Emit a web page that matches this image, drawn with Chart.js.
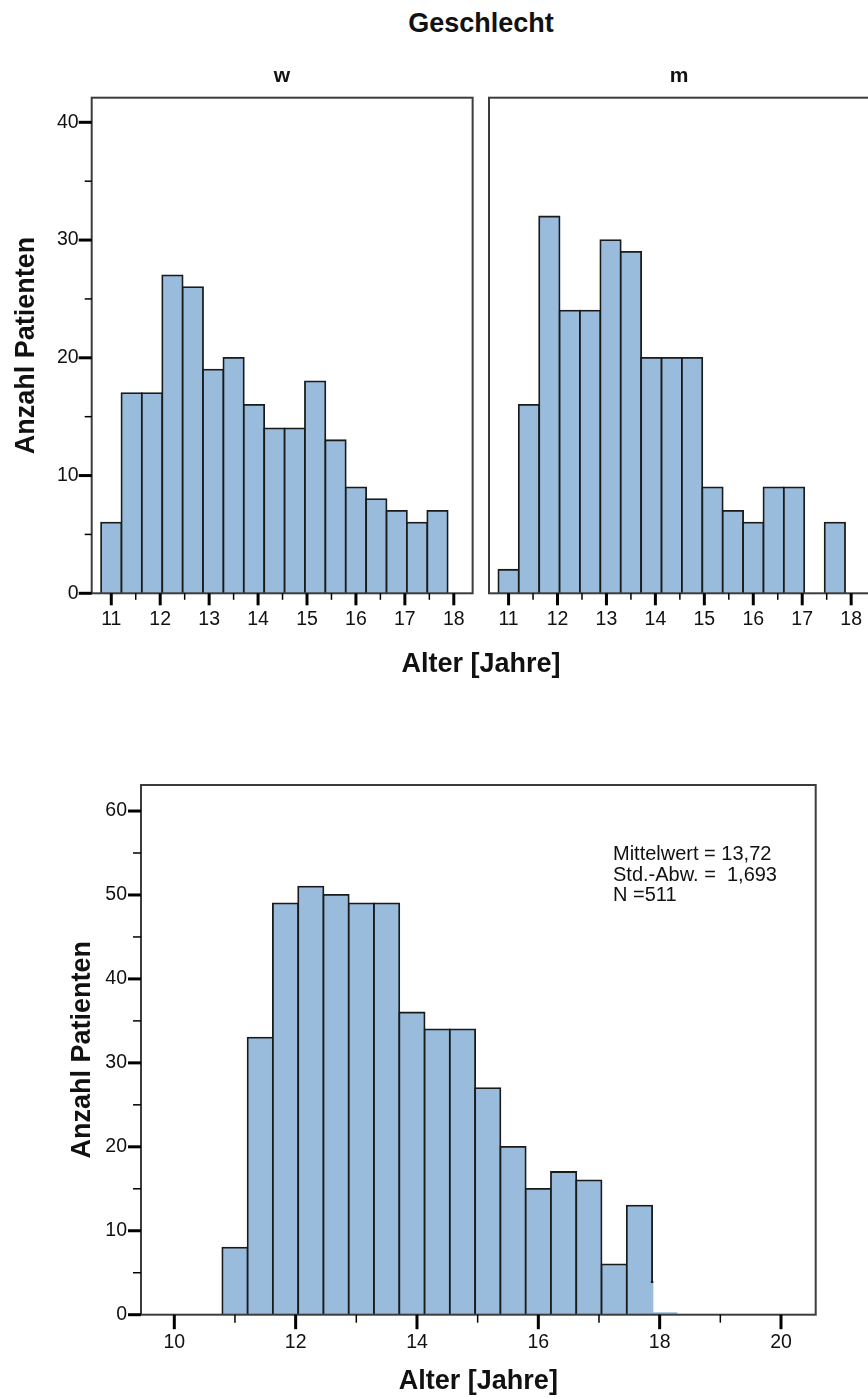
<!DOCTYPE html>
<html lang="de">
<head>
<meta charset="utf-8">
<title>Alter [Jahre] nach Geschlecht</title>
<script src="https://cdn.jsdelivr.net/npm/chart.js@4.4.1/dist/chart.umd.min.js"></script>
<style>
  html, body { margin: 0; padding: 0; background: #fff; }
  body {
    position: relative;
    width: 868px;
    height: 1398px;
    overflow: hidden;
    font-family: "Liberation Sans", Arial, sans-serif;
    color: #111;
  }
  canvas { position: absolute; }
  #chartW { left: 0; top: 0; }
  #chartM { left: 480px; top: 0; }
  #chartAll { left: 0; top: 700px; }
  .heading {
    position: absolute;
    width: 300px;
    text-align: center;
    font-weight: bold;
    font-size: 27px;
    line-height: 32px;
  }
  .panel {
    position: absolute;
    width: 100px;
    top: 62px;
    text-align: center;
    font-weight: bold;
    font-size: 21px;
    line-height: 26px;
  }
  #stats {
    position: absolute;
    left: 613px;
    top: 843px;
    font-size: 20px;
    line-height: 20.5px;
    white-space: pre;
  }
</style>
</head>
<body>
<div class="heading" style="left:331px; top:7px">Geschlecht</div>
<canvas id="chartW" width="480" height="700"></canvas>
<canvas id="chartM" width="400" height="700"></canvas>
<div class="panel" style="left:232px">w</div>
<div class="panel" style="left:629px">m</div>
<div class="heading" style="left:331px; top:647px">Alter [Jahre]</div>
<canvas id="chartAll" width="868" height="698"></canvas>
<div id="stats">Mittelwert = 13,72
Std.-Abw. =  1,693
N =511</div>

<script>
// age classes, centre of each 5-month class in months
const ageMonths = [132, 137, 142, 147, 152, 157, 162, 167, 172, 177, 182, 187, 192, 197, 202, 207, 212];
const countsW = [6, 17, 17, 27, 26, 19, 20, 16, 14, 14, 18, 13, 9, 8, 7, 6, 7];
const countsM = [2, 16, 32, 24, 24, 30, 29, 20, 20, 20, 9, 7, 6, 9, 9, 0, 6];
const countsAll = [8, 33, 49, 51, 50, 49, 49, 36, 34, 34, 27, 20, 15, 17, 16, 6, 13];

// last class (18+) only shows up as a thin strip plus a sliver at its left edge
const tailMonths = [217];
const tailCounts = [0.3];
const sliverAge = [17.9];
const sliverCounts = [4];

// tick labels
const xTicksTop = [11, 12, 13, 14, 15, 16, 17, 18];
const yTicksTop = [0, 10, 20, 30, 40];
const xTicksAll = [10, 12, 14, 16, 18, 20];
const yTicksAll = [0, 10, 20, 30, 40, 50, 60];

const fontFamily = "'Liberation Sans', Arial, sans-serif";
const textColor = "#111";
const barFill = "#99bbdc";
const barLine = "#1a1a1a";
const tickFont = { family: fontFamily, size: 19.5 };
const titleFont = { family: fontFamily, size: 27, weight: "bold" };

function toPoints(months, counts) {
  return months.map((m, i) => ({ x: m / 12, y: counts[i] }));
}

function setTicks(values) {
  return (axis) => {
    axis.ticks = values.map((v) => ({ value: v }));
  };
}

// frame around the plot area + long major / short minor tick marks
const tickMarks = {
  id: "tickMarks",
  afterDraw(chart, args, opts) {
    const { ctx, chartArea: area, scales } = chart;
    ctx.save();
    ctx.strokeStyle = "#3c3c3c";
    ctx.lineWidth = 2;
    ctx.strokeRect(area.left, area.top, area.right - area.left, area.bottom - area.top);

    ctx.strokeStyle = "#000";
    const mark = (scale, value, len, width) => {
      const p = scale.getPixelForValue(value);
      ctx.lineWidth = width;
      ctx.beginPath();
      if (scale.isHorizontal()) {
        ctx.moveTo(p, area.bottom);
        ctx.lineTo(p, area.bottom + len);
      } else {
        ctx.moveTo(area.left, p);
        ctx.lineTo(area.left - len, p);
      }
      ctx.stroke();
    };
    ["x", "y"].forEach((id) => {
      const len = opts[id];
      if (!len) return;
      const values = scales[id].ticks.map((t) => t.value);
      values.forEach((v, i) => {
        mark(scales[id], v, len[0], 3);
        if (i > 0) mark(scales[id], (values[i - 1] + v) / 2, len[1], 1.5);
      });
    });
    ctx.restore();
  },
};

const barStyle = {
  backgroundColor: barFill,
  borderColor: barLine,
  borderWidth: 1.8,
  inflateAmount: 0.9,
  categoryPercentage: 1,
  barPercentage: 1,
  grouped: false,
};

function topPanel(canvasId, counts, withYAxis, padLeft, padRight) {
  return new Chart(document.getElementById(canvasId), {
    type: "bar",
    data: {
      datasets: [{ data: toPoints(ageMonths, counts), ...barStyle }],
    },
    options: {
      responsive: false,
      animation: false,
      layout: { padding: { left: padLeft, right: padRight, top: 97.7, bottom: 0 } },
      plugins: {
        legend: { display: false },
        tooltip: { enabled: false },
        tickMarks: { x: [12, 6.5], y: withYAxis ? [13, 7] : null },
      },
      scales: {
        x: {
          type: "linear",
          offset: false,
          min: 10.6,
          max: 18.385,
          grid: { display: false, drawTicks: false },
          border: { display: false },
          ticks: { font: tickFont, color: textColor, padding: 15, maxRotation: 0, autoSkip: false },
          afterBuildTicks: setTicks(xTicksTop),
          afterFit: (axis) => { axis.height = 106.7; },
        },
        y: {
          display: withYAxis,
          min: 0,
          max: 42.09,
          grid: { display: false, drawTicks: false },
          border: { display: false },
          title: {
            display: true,
            text: "Anzahl Patienten",
            color: textColor,
            font: titleFont,
            padding: { top: 10.8, bottom: 0 },
          },
          ticks: { font: tickFont, color: textColor, padding: 13 },
          afterBuildTicks: setTicks(yTicksTop),
          afterFit: (axis) => { axis.width = withYAxis ? 91.7 : 0; },
        },
      },
    },
    plugins: [tickMarks],
  });
}

topPanel("chartW", countsW, true, 0, 7.3);
topPanel("chartM", countsM, false, 9, 10);

//Total histogram
new Chart(document.getElementById("chartAll"), {
  type: "bar",
  data: {
    datasets: [
      {
        data: sliverAge.map((a, i) => ({ x: a, y: sliverCounts[i] })),
        xAxisID: "xt",
        backgroundColor: barFill,
        borderColor: barLine,
        borderWidth: { top: 1.8, left: 0, right: 0, bottom: 0 },
        inflateAmount: 0,
        barThickness: 3,
      },
      { data: toPoints(ageMonths, countsAll), ...barStyle },
      {
        data: toPoints(tailMonths, tailCounts),
        ...barStyle,
        borderWidth: 0,
        inflateAmount: 0,
      },
    ],
  },
  options: {
    responsive: false,
    animation: false,
    layout: { padding: { left: 0, right: 52.3, top: 85, bottom: 0 } },
    plugins: {
      legend: { display: false },
      tooltip: { enabled: false },
      tickMarks: { x: [14.5, 8], y: [13, 8] },
    },
    scales: {
      x: {
        type: "linear",
        offset: false,
        min: 9.451,
        max: 20.572,
        grid: { display: false, drawTicks: false },
        border: { display: false },
        title: {
          display: true,
          text: "Alter [Jahre]",
          color: textColor,
          font: titleFont,
          padding: { top: 0, bottom: 0 },
        },
        ticks: {
          font: tickFont,
          color: textColor,
          padding: 16,
          maxRotation: 0,
          autoSkip: false,
        },
        afterBuildTicks: setTicks(xTicksAll),
        afterFit: (axis) => { axis.height = 83.3; },
      },
      xt: {
        type: "linear",
        display: false,
        offset: false,
        min: 9.451,
        max: 20.572,
      },
      y: {
        min: 0,
        max: 63.1,
        grid: { display: false, drawTicks: false },
        border: { display: false },
        title: {
          display: true,
          text: "Anzahl Patienten",
          color: textColor,
          font: titleFont,
          padding: { top: 66.8, bottom: 0 },
        },
        ticks: { font: tickFont, color: textColor, padding: 14 },
        afterBuildTicks: setTicks(yTicksAll),
        afterFit: (axis) => { axis.width = 141; },
      },
    },
  },
  plugins: [tickMarks],
});
</script>
</body>
</html>
